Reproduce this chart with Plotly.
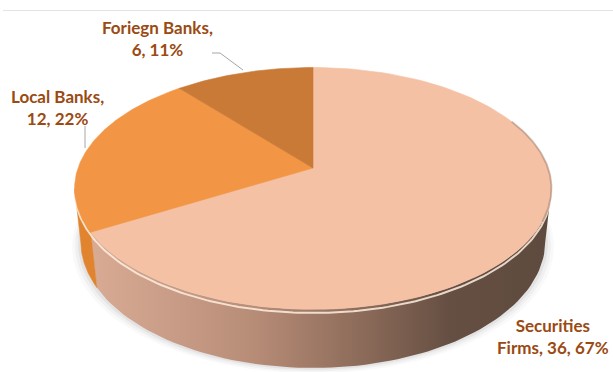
import textwrap
import numpy as np
import plotly.graph_objects as go

# Data
categories = ["Securities Firms", "Local Banks", "Foriegn Banks"]
values = [36, 12, 6]

# Styling
top_colors = ["#F5C1A5", "#F29545", "#C97A36"]
side_colors = [None, "#E0842F", "#B56A2A"]
side_gradient = [[0.0, "#D9AB95"], [0.35, "#B88D78"], [0.6, "#8A6958"],
                 [0.78, "#654F42"], [1.0, "#5E4A3E"]]
label_color = "#9A4A12"
label_pos = [(553, 336), (57, 107), (157, 38)]   # label centres (px)

W, H = 613, 372
CX, CY = 313, 168          # pie centre on screen
TILT = np.radians(30)      # viewing elevation
RAD = 0.195                # pie radius relative to camera distance
FOCAL = 1205               # px per unit
THICK = 0.0516             # pie thickness relative to camera distance


def project(phi_deg, y):
    phi = np.radians(phi_deg)
    x = RAD * np.cos(phi)
    w = RAD * np.sin(phi)
    yc = y * np.cos(TILT) + w * np.sin(TILT)
    zc = 1 + w * np.cos(TILT) - y * np.sin(TILT)
    return CX + FOCAL * x / zc, CY - FOCAL * yc / zc


total = sum(values)
shares = [v / total for v in values]
pcts = [round(100 * s) for s in shares]

# slice angle ranges: start at 12 o'clock, go clockwise
bounds = []
start = 90.0
for s in shares:
    end = start - 360 * s
    bounds.append((start, end))
    start = end

# visible front arc (between the silhouette tangents)
r_eff = RAD * np.cos(TILT)
tang = np.degrees(np.arcsin(r_eff))
front = (-180 + tang, -tang)

fig = go.Figure()

# soft shadow under the pie
for k, a in [(9, 0.025), (6, 0.035), (3, 0.05)]:
    ph = np.linspace(0, 360, 200)
    bx, by = project(ph, -THICK)
    sx = CX + (bx - CX) * (1 + k / 240)
    sy = by + k * 0.6
    fig.add_trace(go.Scatter(x=sx, y=sy, fill="toself", mode="lines",
                             line=dict(width=0), fillcolor=f"rgba(0,0,0,{a})",
                             hoverinfo="skip"))

# side walls
for i, (a, b) in enumerate(bounds):
    lo, hi = max(min(a, b), front[0]), min(max(a, b), front[1])
    if lo >= hi:
        continue
    ph = np.linspace(hi, lo, 80)
    tx, ty = project(ph, 0)
    bx, by = project(ph[::-1], -THICK)
    px = np.concatenate([tx, bx, tx[:1]])
    py = np.concatenate([ty, by, ty[:1]])
    if i == 0:
        fig.add_trace(go.Scatter(x=px, y=py, fill="toself", mode="lines",
                                 line=dict(width=0),
                                 fillgradient=dict(type="horizontal",
                                                   colorscale=side_gradient),
                                 hoverinfo="skip"))
    else:
        fig.add_trace(go.Scatter(x=px, y=py, fill="toself", mode="lines",
                                 line=dict(width=0.5, color=side_colors[i]),
                                 fillcolor=side_colors[i], hoverinfo="skip"))

# bevel highlight along the front rim
ph = np.linspace(-168, -15, 150)
hx, hy = project(ph, -THICK * 0.06)
fig.add_trace(go.Scatter(x=hx, y=hy, mode="lines",
                         line=dict(width=2, color="rgba(255,238,222,0.85)"),
                         hoverinfo="skip"))

# top faces
for i, (a, b) in enumerate(bounds):
    ph = np.linspace(a, b, 120)
    tx, ty = project(ph, 0)
    px = np.concatenate([[CX], tx, [CX]])
    py = np.concatenate([[CY], ty, [CY]])
    fig.add_trace(go.Scatter(x=px, y=py, fill="toself", mode="lines",
                             line=dict(width=0.6, color=top_colors[i]),
                             fillcolor=top_colors[i],
                             name=categories[i],
                             hovertemplate=f"{categories[i]}: {values[i]}<extra></extra>"))

# softer shaded rim on the right of the top face
ph = np.linspace(25, -25, 60)
rx, ry = project(ph, 0)
fig.add_trace(go.Scatter(x=rx, y=ry, mode="lines",
                         line=dict(width=2, color="rgba(120,92,76,0.35)"),
                         hoverinfo="skip"))

# data labels
for i, cat in enumerate(categories):
    text = textwrap.fill(f"{cat}, {values[i]}, {pcts[i]}%", width=14)
    x, y = label_pos[i]
    fig.add_annotation(x=x, y=y, xref="x", yref="y", text=text.replace("\n", "<br>"),
                       showarrow=False, align="center",
                       font=dict(family="Lato", size=17, color=label_color,
                                 weight="bold"))

# leader lines
leader = dict(type="line", xref="x", yref="y",
              line=dict(color="#A6A6A6", width=1))
fig.add_shape(**leader, x0=212, y0=53, x1=220, y1=53)
fig.add_shape(**leader, x0=220, y0=53, x1=243, y1=70)
fig.add_shape(**leader, x0=85, y0=126, x1=85, y1=148)

# chart frame edge
fig.add_shape(type="line", xref="x", yref="y", x0=3, y0=10.5, x1=W, y1=10.5,
              line=dict(color="#E3E3E3", width=1))

fig.update_layout(width=W, height=H, margin=dict(l=0, r=0, t=0, b=0),
                  paper_bgcolor="white", plot_bgcolor="white", showlegend=False)
fig.update_xaxes(range=[0, W], visible=False, fixedrange=True)
fig.update_yaxes(range=[H, 0], visible=False, fixedrange=True)

fig.write_html("out.html")
